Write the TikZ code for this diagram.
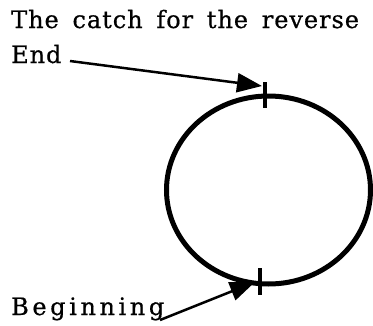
\documentclass[tikz,border=0pt]{standalone}
\usepackage{fontspec}
\setmainfont{DejaVu Serif}
\newfontfamily\lblfont{DejaVu Serif}[LetterSpace=4,WordSpace=1.6,FakeBold=0.6]
\newfontfamily\begfont{DejaVu Serif}[LetterSpace=15,FakeBold=0.6]
\usetikzlibrary{arrows.meta}
\tikzset{
  lbl/.style={anchor=base west, inner sep=0pt, font=\lblfont\fontsize{24}{28}\selectfont},
  blbl/.style={anchor=base west, inner sep=0pt, font=\begfont\fontsize{24}{28}\selectfont},
  ptr/.style={line width=2.5pt, -{Triangle[length=25pt,width=19pt]}},
  tick/.style={line width=3.5pt},
  ring/.style={line width=5pt}
}
\begin{document}
\begin{tikzpicture}[x=1pt,y=-1pt]
\useasboundingbox (0,0) rectangle (373,325);
\node[lbl] (title) at (11,28) {The catch for the reverse};
\node[lbl] (end) at (11,63) {End};
\node[blbl] (beg) at (11,315) {Beginning};
\draw[ring] (268.5,190) ellipse [x radius=102, y radius=94];
\coordinate (t1) at (265,82);
\coordinate (t2) at (265,108);
\coordinate (b1) at (260,268);
\coordinate (b2) at (260,295);
\draw[tick] (t1) -- (t2);
\draw[tick] (b1) -- (b2);
\coordinate (endtip) at (262,86);
\coordinate (endtail) at (70,61);
\coordinate (begtip) at (255,282);
\coordinate (begtail) at (160,320);
\draw[ptr] (endtail) -- (endtip);
\draw[ptr] (begtail) -- (begtip);
\end{tikzpicture}
\end{document}
